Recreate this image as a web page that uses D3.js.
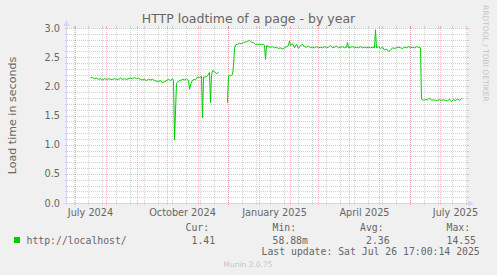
<!DOCTYPE html>
<html><head><meta charset="utf-8">
<script src="https://cdn.jsdelivr.net/npm/d3@7"></script>
<style>body{margin:0;background:#F0F0F0} svg{display:block}</style>
</head><body><svg id="c" width="497" height="275"></svg>
<script>
const title = "HTTP loadtime of a page - by year";
const yLabel = "Load time in seconds";
const watermark = "RRDTOOL / TOBI OETIKER";
const footer = "Munin 2.0.75";
const seriesName = "http://localhost/";
const legendHeaders = ["Cur:", "Min:", "Avg:", "Max:"];
const legendValues = ["1.41", "58.88m", "2.36", "14.55"];
const lastUpdate = "Last update: Sat Jul 26 17:00:14 2025";
const yTicks = [0, 0.5, 1.0, 1.5, 2.0, 2.5, 3.0];
const xTickLabels = ["July 2024", "October 2024", "January 2025", "April 2025", "July 2025"];
const xTickLabelDates = ["2024-07-16", "2024-10-16", "2025-01-16", "2025-04-16", "2025-07-16"];
const timeDomain = ["2024-06-22 12", "2025-07-27 12"];

const dates = [
"2024-07-16","2024-07-18","2024-07-20","2024-07-22","2024-07-24","2024-07-26","2024-07-28","2024-07-30",
"2024-08-01","2024-08-03","2024-08-05","2024-08-07","2024-08-09","2024-08-11","2024-08-13","2024-08-15",
"2024-08-17","2024-08-19","2024-08-21","2024-08-23","2024-08-25","2024-08-27","2024-08-29","2024-08-31",
"2024-09-02","2024-09-04","2024-09-06","2024-09-08","2024-09-10","2024-09-12","2024-09-14","2024-09-16",
"2024-09-18","2024-09-20","2024-09-22","2024-09-24","2024-09-26","2024-09-28","2024-09-30","2024-10-02",
"2024-10-04","2024-10-06","2024-10-07","2024-10-08","2024-10-10","2024-10-12","2024-10-14","2024-10-16",
"2024-10-18","2024-10-20","2024-10-22","2024-10-23","2024-10-25","2024-10-27","2024-10-29","2024-10-31",
"2024-11-02","2024-11-04","2024-11-05","2024-11-06","2024-11-08","2024-11-10","2024-11-12","2024-11-13",
"2024-11-14","2024-11-15","2024-11-17","2024-11-19","2024-11-21","2024-11-24",
"2024-11-30","2024-12-01","2024-12-03","2024-12-05","2024-12-06","2024-12-07","2024-12-08","2024-12-10",
"2024-12-12","2024-12-14","2024-12-16","2024-12-18","2024-12-20","2024-12-22","2024-12-24","2024-12-26",
"2024-12-28","2024-12-30","2025-01-01","2025-01-03","2025-01-05","2025-01-06","2025-01-07","2025-01-08",
"2025-01-10","2025-01-12","2025-01-14","2025-01-16","2025-01-18","2025-01-20","2025-01-22","2025-01-24",
"2025-01-26","2025-01-28","2025-01-30","2025-01-31","2025-02-01","2025-02-03","2025-02-05","2025-02-07",
"2025-02-09","2025-02-11","2025-02-13","2025-02-15","2025-02-17","2025-02-19","2025-02-21","2025-02-23",
"2025-02-25","2025-02-27","2025-03-01","2025-03-03","2025-03-05","2025-03-07","2025-03-09","2025-03-11",
"2025-03-13","2025-03-15","2025-03-17","2025-03-19","2025-03-21","2025-03-23","2025-03-25","2025-03-27",
"2025-03-29","2025-03-30","2025-03-31","2025-04-02","2025-04-04","2025-04-06","2025-04-08","2025-04-10",
"2025-04-12","2025-04-14","2025-04-16","2025-04-18","2025-04-20","2025-04-22","2025-04-24","2025-04-26",
"2025-04-27","2025-04-28","2025-04-30","2025-05-02","2025-05-04","2025-05-06","2025-05-08","2025-05-10",
"2025-05-12","2025-05-14","2025-05-16","2025-05-18","2025-05-20","2025-05-22","2025-05-24","2025-05-26",
"2025-05-28","2025-05-30","2025-06-01","2025-06-03","2025-06-05","2025-06-07","2025-06-09","2025-06-11",
"2025-06-12","2025-06-14","2025-06-16","2025-06-18","2025-06-20","2025-06-22","2025-06-24","2025-06-26",
"2025-06-28","2025-06-30","2025-07-02","2025-07-04","2025-07-06","2025-07-08","2025-07-10","2025-07-12",
"2025-07-14","2025-07-16","2025-07-18","2025-07-20","2025-07-22","2025-07-23"
];
const values = [
2.15,2.15,2.13,2.14,2.12,2.13,2.11,2.13,
2.12,2.13,2.12,2.12,2.13,2.12,2.12,2.14,
2.12,2.13,2.12,2.13,2.14,2.13,2.15,2.13,
2.14,2.12,2.11,2.12,2.10,2.12,2.11,2.12,
2.10,2.09,2.08,2.10,2.06,2.08,2.10,2.12,
2.10,2.13,2.10,1.08,2.05,2.09,2.10,2.12,
2.11,2.13,2.10,1.95,2.08,2.12,2.11,2.16,
2.15,2.17,1.46,2.16,2.16,2.18,2.24,1.72,
2.19,2.27,2.25,2.22,2.24,null,
1.72,2.18,2.18,2.20,2.35,2.65,2.71,2.72,
2.74,2.73,2.75,2.76,2.77,2.79,2.76,2.75,
2.72,2.72,2.72,2.72,2.72,2.70,2.46,2.70,
2.68,2.67,2.68,2.66,2.67,2.65,2.66,2.64,
2.66,2.68,2.70,2.78,2.70,2.73,2.66,2.72,
2.65,2.70,2.72,2.68,2.67,2.69,2.66,2.67,
2.66,2.68,2.66,2.67,2.66,2.68,2.66,2.67,
2.70,2.66,2.67,2.69,2.66,2.67,2.68,2.66,
2.67,2.75,2.66,2.67,2.68,2.66,2.67,2.66,
2.68,2.66,2.67,2.66,2.67,2.66,2.67,2.66,
2.97,2.66,2.68,2.65,2.67,2.62,2.64,2.60,
2.62,2.66,2.65,2.66,2.67,2.66,2.65,2.67,
2.66,2.68,2.66,2.67,2.66,2.68,2.67,2.66,
1.78,1.76,1.77,1.77,1.80,1.76,1.77,1.76,
1.76,1.77,1.76,1.77,1.76,1.75,1.78,1.74,
1.77,1.76,1.78,1.76,1.79,1.78
];

const C = {
  back: "#F0F0F0", canvas: "#FFFFFF", font: "#666666",
  grid: "rgba(140,140,140,0.38)", mgrid: "rgba(224,80,80,0.38)",
  axis: "#CFD6F8", line: "#00CC00", watermark: "#C4C4C4"
};
const L = 67, R = 467, T = 28, B = 203;
const parseDay = d3.timeParse("%Y-%m-%d");
const parseHour = d3.timeParse("%Y-%m-%d %H");

const svg = d3.select("#c");
svg.append("rect").attr("width", 497).attr("height", 275).attr("fill", C.back);

const x = d3.scaleTime().domain(timeDomain.map(parseHour)).range([L, R]);
const y = d3.scaleLinear().domain([0, 3]).range([B, T]);

svg.append("rect").attr("x", L).attr("y", T).attr("width", R - L).attr("height", B - T).attr("fill", C.canvas);

const g = svg.append("g").attr("shape-rendering", "crispEdges");
const px = v => Math.round(v) + 0.5;
const [t0, t1] = x.domain();

const minorY = d3.range(0, 31).map(i => i / 10).filter(v => Math.abs(v * 2 - Math.round(v * 2)) > 1e-6);
const minorX = d3.timeDay.range(parseDay("2024-06-30"), t1, 14);
const majorX = d3.timeMonth.range(t0, t1);
const majorY = yTicks;

function hline(v, col) {
  const yy = px(y(v));
  g.append("line").attr("x1", L).attr("x2", R).attr("y1", yy).attr("y2", yy)
    .attr("stroke", col).attr("stroke-width", 1).attr("stroke-dasharray", "1,1");
  g.append("line").attr("x1", L - 2).attr("x2", L).attr("y1", yy).attr("y2", yy).attr("stroke", col);
  g.append("line").attr("x1", R).attr("x2", R + 2).attr("y1", yy).attr("y2", yy).attr("stroke", col);
}
function vline(d, col) {
  const xx = px(x(d) - 0.5);
  g.append("line").attr("x1", xx).attr("x2", xx).attr("y1", T).attr("y2", B)
    .attr("stroke", col).attr("stroke-width", 1).attr("stroke-dasharray", "1,1");
  g.append("line").attr("x1", xx).attr("x2", xx).attr("y1", B).attr("y2", B + 2).attr("stroke", col);
  g.append("line").attr("x1", xx).attr("x2", xx).attr("y1", T - 2).attr("y2", T).attr("stroke", col);
}
minorY.forEach(v => hline(v, C.grid));
minorX.forEach(d => vline(d, C.grid));
majorY.forEach(v => hline(v, C.mgrid));
majorX.forEach(d => vline(d, C.mgrid));

svg.append("line").attr("x1", 66.5).attr("x2", 66.5).attr("y1", B + 2).attr("y2", 22).attr("stroke", C.axis);
svg.append("line").attr("x1", 63).attr("x2", 470).attr("y1", B + 0.5).attr("y2", B + 0.5).attr("stroke", C.axis);
svg.append("path").attr("d", "M63.5,26 L69.5,26 L66.5,20 Z").attr("fill", C.axis);
svg.append("path").attr("d", "M468,200.5 L468,206.5 L474,203.5 Z").attr("fill", C.axis);

const data = dates.map((d, i) => ({ t: parseDay(d), v: values[i] }));
const line = d3.line().defined(d => d.v != null).x(d => x(d.t)).y(d => y(d.v));
svg.append("path").datum(data).attr("d", line).attr("fill", "none")
  .attr("stroke", C.line).attr("stroke-width", 1);

const sans = "DejaVu Sans";
const mono = "DejaVu Sans Mono";
svg.append("g").selectAll("text").data(yTicks).join("text")
  .attr("x", 60).attr("y", v => y(v) + 3.6).attr("text-anchor", "end")
  .attr("font-family", sans).attr("font-size", "9.72px").attr("fill", C.font)
  .text(v => d3.format(".1f")(v));
svg.append("g").selectAll("text").data(xTickLabels).join("text")
  .attr("x", (d, i) => x(parseDay(xTickLabelDates[i]))).attr("y", 215.5).attr("text-anchor", "middle")
  .attr("font-family", sans).attr("font-size", "9.72px").attr("fill", C.font)
  .text(d => d);

svg.append("text").attr("x", 248.5).attr("y", 23).attr("text-anchor", "middle")
  .attr("font-family", sans).attr("font-size", "12.5px").attr("fill", C.font).text(title);
svg.append("text").attr("transform", "translate(15.5,115.5) rotate(-90)").attr("text-anchor", "middle")
  .attr("font-family", sans).attr("font-size", "11.1px").attr("fill", C.font).text(yLabel);
svg.append("text").attr("transform", "translate(482.5,5) rotate(90)").attr("text-anchor", "start")
  .attr("font-family", sans).attr("font-size", "7.5px").attr("fill", C.watermark).text(watermark);

const hdrX = [185.5, 272.5, 360, 446.5];
const valX = [191.5, 272.5, 366, 446.5];
svg.append("g").selectAll("text").data(legendHeaders).join("text")
  .attr("x", (d, i) => hdrX[i]).attr("y", 230.5)
  .attr("font-family", mono).attr("font-size", "9.8px").attr("fill", C.font).text(d => d);
svg.append("rect").attr("x", 14).attr("y", 237).attr("width", 6).attr("height", 6).attr("fill", C.line);
svg.append("text").attr("x", 26.5).attr("y", 243.5)
  .attr("font-family", mono).attr("font-size", "9.8px").attr("fill", C.font).text(seriesName);
svg.append("g").selectAll("text").data(legendValues).join("text")
  .attr("x", (d, i) => valX[i]).attr("y", 243.5)
  .attr("font-family", mono).attr("font-size", "9.8px").attr("fill", C.font).text(d => d);
svg.append("text").attr("x", 261.5).attr("y", 255)
  .attr("font-family", mono).attr("font-size", "9.8px").attr("fill", C.font).text(lastUpdate);
svg.append("text").attr("x", 248).attr("y", 266.5).attr("text-anchor", "middle")
  .attr("font-family", sans).attr("font-size", "7.5px").attr("fill", C.watermark).text(footer);
</script>
</body></html>
